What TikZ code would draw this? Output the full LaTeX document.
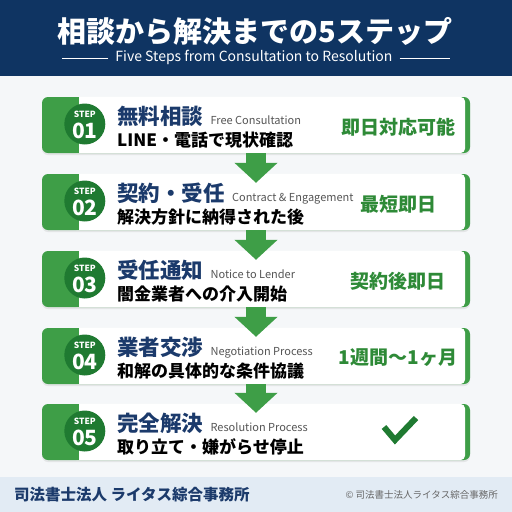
\documentclass[tikz,border=0pt]{standalone}
\usepackage{fontspec}
\setmainfont{Noto Sans CJK JP}
\usepackage{xcolor}
\usepackage{tikz}
\usetikzlibrary{arrows.meta,shadows}
\definecolor{navy}{HTML}{0F3462}
\definecolor{titlenavy}{HTML}{1B3A6B}
\definecolor{stepgreen}{HTML}{3E9E47}
\definecolor{darkgreen}{HTML}{1F7A31}
\definecolor{textgreen}{HTML}{2E8A37}
\definecolor{lightbg}{HTML}{F5F7F9}
\definecolor{footbg}{HTML}{E2EBF4}
\definecolor{subgray}{HTML}{555555}
\definecolor{footgray}{HTML}{666666}

\tikzset{
  card/.style={fill=stepgreen, rounded corners=6pt, minimum width=428pt, minimum height=56pt, inner sep=0pt,
    drop shadow={opacity=0.15, shadow xshift=0pt, shadow yshift=-2pt}},
  stepcirc/.style={circle, fill=darkgreen, minimum size=41pt, inner sep=0pt},
  ttl/.style={anchor=base west, inner sep=0pt, text=titlenavy, font=\fontsize{21.5}{24}\selectfont\bfseries},
  eng/.style={anchor=base west, inner sep=0pt, text=subgray, font=\fontsize{11}{13}\selectfont},
  sub/.style={anchor=base west, inner sep=0pt, text=black, font=\fontsize{17}{19}\selectfont\bfseries},
  side/.style={inner sep=0pt, text=textgreen, font=\fontsize{19}{22}\selectfont\bfseries},
  flow/.style={draw=stepgreen, line width=20pt, -{Triangle[width=42pt,length=20pt]}}
}

\begin{document}
\begin{tikzpicture}[x=1pt, y=-1pt]
\useasboundingbox (0,0) rectangle (512,512);
\fill[lightbg] (0,0) rectangle (512,512);
\fill[navy] (0,0) rectangle (512,76);
\node[text=white, font=\fontsize{29}{32}\selectfont\bfseries] (title) at (255,31) {相談から解決までの5ステップ};
\node[text=white, font=\fontsize{14}{16}\selectfont, inner sep=0pt] (subtitle) at (254,57) {Five Steps from Consultation to Resolution};
\draw[white, line width=0.6pt] ([xshift=-7pt,yshift=-1pt]subtitle.west) -- (62,58);
\draw[white, line width=0.6pt] ([xshift=7pt,yshift=-1pt]subtitle.east) -- (450,58);

\foreach \i/\cy/\ttl/\eng/\sub/\side in {
  1/125/無料相談/Free Consultation/LINE・電話で現状確認/即日対応可能,
  2/202/契約・受任/Contract \& Engagement/解決方針に納得された後/最短即日,
  3/279/受任通知/Notice to Lender/闇金業者への介入開始/契約後即日,
  4/356/業者交渉/Negotiation Process/和解の具体的な条件協議/1週間〜1ヶ月,
  5/432/完全解決/Resolution Process/取り立て・嫌がらせ停止/}{
  \node[card] (card\i) at (256,\cy) {};
  \fill[white, rounded corners=5pt] ([xshift=30pt]card\i.north west) rectangle ([xshift=-5pt]card\i.south east);
  \fill[stepgreen] ([xshift=18pt]card\i.north west) rectangle ([xshift=37pt]card\i.south west);
  \node[stepcirc] (circ\i) at ([xshift=43pt,yshift=1pt]card\i.west) {};
  \node[text=white, font=\fontsize{8.5}{9}\selectfont\bfseries, inner sep=0pt, anchor=base] (steplbl\i) at ([yshift=7pt]circ\i.center) {STEP};
  \node[text=white, font=\fontsize{21}{22}\selectfont\bfseries, inner sep=0pt, anchor=base] (stepnum\i) at ([yshift=-14.5pt]circ\i.center) {0\i};
  \node[ttl] (ttl\i) at (117,\cy-1) {\ttl};
  \node[eng] (eng\i) at ([xshift=7pt]ttl\i.base east) {\eng};
  \node[sub] (sub\i) at (117,\cy+21) {\sub};
  \node[side] (side\i) at (398,\cy+2) {\side};
}

\draw[darkgreen, line width=6pt] (384,427) -- (395,440) -- (416,418);

\foreach \i [evaluate=\i as \j using int(\i+1)] in {1,...,4}
  \draw[flow] (card\i.south) -- ([yshift=-9pt]card\j.north);

\fill[footbg] (0,477) rectangle (512,512);
\node[anchor=west, text=titlenavy, font=\fontsize{15.5}{18}\selectfont\bfseries, inner sep=0pt] (office) at (14,495) {司法書士法人 ライタス綜合事務所};
\node[anchor=east, text=footgray, font=\fontsize{9.5}{11}\selectfont, inner sep=0pt] (copy) at (498,495) {© 司法書士法人ライタス綜合事務所};
\end{tikzpicture}
\end{document}
